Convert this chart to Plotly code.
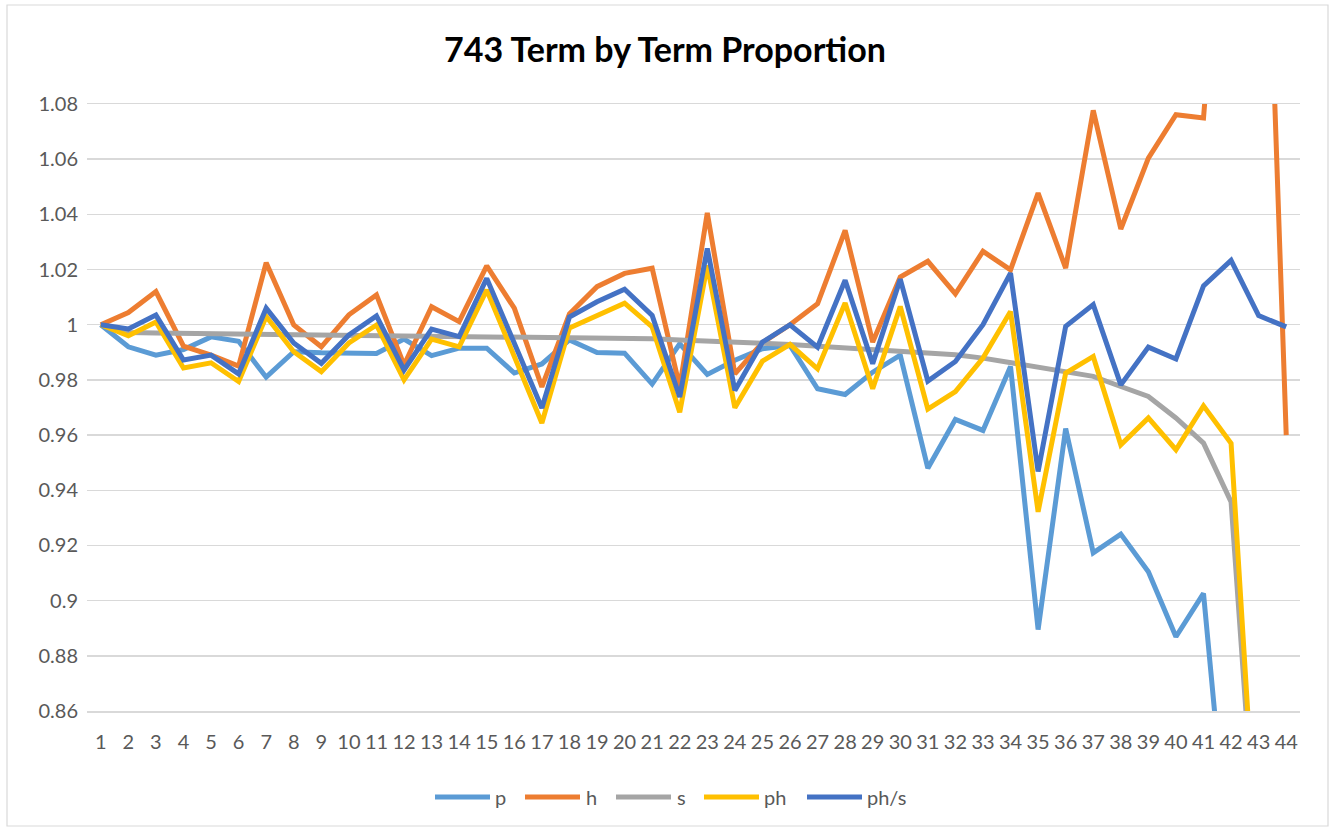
import plotly.graph_objects as go

terms = list(range(1, 45))

p = [1.0, 0.992, 0.989, 0.991, 0.9956, 0.994, 0.981, 0.9902, 0.9898, 0.9897,
     0.9896, 0.9948, 0.9888, 0.9915, 0.9915, 0.9825, 0.9858, 0.9945, 0.9899, 0.9897,
     0.9785, 0.9931, 0.982, 0.9871, 0.9913, 0.9925, 0.9768, 0.9747, 0.9828, 0.989,
     0.948, 0.9657, 0.9617, 0.9849, 0.8895, 0.9624, 0.9173, 0.9241, 0.9105, 0.8869,
     0.9026, 0.796, 0.64, None]

h = [1.0, 1.0044, 1.012, 0.9922, 0.989, 0.985, 1.0225, 0.9999, 0.992, 1.0036,
     1.0108, 0.9854, 1.0065, 1.0011, 1.0213, 1.006, 0.9775, 1.0039, 1.0138, 1.0186,
     1.0205, 0.9774, 1.0405, 0.9822, 0.9935, 1.0, 1.0076, 1.0342, 0.9937, 1.0173,
     1.023, 1.0112, 1.0266, 1.0199, 1.0477, 1.0205, 1.0777, 1.0347, 1.0604, 1.0761,
     1.0749, 1.202, 1.25, 0.96]

s = [1.0, 0.9972, 0.997, 0.9969, 0.9968, 0.9967, 0.9966, 0.9965, 0.9964, 0.9963,
     0.9962, 0.9961, 0.996, 0.9959, 0.9958, 0.9956, 0.9955, 0.9953, 0.9952, 0.995,
     0.9949, 0.9945, 0.9942, 0.9938, 0.9933, 0.9928, 0.9922, 0.9916, 0.991, 0.9903,
     0.9897, 0.9891, 0.9879, 0.9863, 0.9849, 0.9831, 0.9813, 0.9776, 0.974, 0.9662,
     0.9571, 0.9358, 0.795, None]

ph = [1.0, 0.996, 1.001, 0.9843, 0.9862, 0.9794, 1.003, 0.9902, 0.983, 0.9934,
      0.9999, 0.98, 0.9948, 0.992, 1.0126, 0.989, 0.9644, 0.9988, 1.0035, 1.0078,
      0.9992, 0.9683, 1.0215, 0.9699, 0.9868, 0.9929, 0.984, 1.0079, 0.9768, 1.0066,
      0.9694, 0.9758, 0.9879, 1.0048, 0.9322, 0.9825, 0.9885, 0.9565, 0.9662, 0.9547,
      0.9706, 0.957, 0.796, None]

ph_s = [1.0, 0.9985, 1.0035, 0.9872, 0.989, 0.9822, 1.006, 0.9934, 0.986, 0.9963,
        1.0032, 0.9836, 0.9984, 0.9957, 1.0168, 0.9932, 0.9698, 1.0028, 1.0083, 1.0129,
        1.0034, 0.9738, 1.0276, 0.9762, 0.9937, 1.0, 0.9919, 1.0161, 0.9859, 1.0165,
        0.9796, 0.9867, 1.0, 1.0187, 0.9468, 0.9994, 1.0073, 0.9782, 0.9919, 0.9876,
        1.0141, 1.0233, 1.0033, 0.9992]

y_ticks = [0.86, 0.88, 0.9, 0.92, 0.94, 0.96, 0.98, 1.0, 1.02, 1.04, 1.06, 1.08]
y_tick_text = ["0.86", "0.88", "0.9", "0.92", "0.94", "0.96", "0.98", "1",
               "1.02", "1.04", "1.06", "1.08"]

series_names = ["p", "h", "s", "ph", "ph/s"]
series_values = [p, h, s, ph, ph_s]
series_colors = ["#5B9BD5", "#ED7D31", "#A5A5A5", "#FFC000", "#4472C4"]

FONT = "Lato, Calibri, 'Noto Sans', sans-serif"
LINE_W = 5

W, H = 1330, 830
ml, mr, mt, mb = 87, 30, 104, 119
pw, phh = W - ml - mr, H - mt - mb


def px(xp):
    return (xp - ml) / pw


def py(yp):
    return (H - mb - yp) / phh


fig = go.Figure()
for name, vals, col in zip(series_names, series_values, series_colors):
    fig.add_trace(go.Scatter(
        x=terms, y=vals, name=name, mode="lines",
        line=dict(color=col, width=LINE_W),
        connectgaps=False, showlegend=False, hoverinfo="skip",
    ))

fig.update_layout(
    width=W, height=H,
    margin=dict(l=ml, r=mr, t=mt, b=mb),
    paper_bgcolor="white", plot_bgcolor="white",
    font=dict(family=FONT, color="#595959", size=20),
    title=dict(text="<b>743 Term by Term Proportion</b>", x=0.5, xanchor="center",
               y=1 - 50 / H, yanchor="middle",
               font=dict(family=FONT, size=34, color="#000000")),
    xaxis=dict(range=[0.5, 44.5], tickmode="array", tickvals=terms,
               ticktext=[str(t) for t in terms], showgrid=False,
               showline=True, linecolor="#D9D9D9", linewidth=1.5, mirror=True,
               zeroline=False, ticks="", ticklabelstandoff=12,
               tickfont=dict(size=20, color="#595959")),
    yaxis=dict(range=[0.86, 1.08], tickmode="array", tickvals=y_ticks,
               ticktext=y_tick_text, showgrid=True, gridcolor="#D9D9D9",
               gridwidth=1.5, zeroline=False, showline=False, ticks="",
               ticklabelstandoff=8, tickfont=dict(size=20, color="#595959")),
    showlegend=False,
    hovermode=False,
)

# chart border
fig.add_shape(type="rect", xref="paper", yref="paper",
              x0=px(7), x1=px(1328), y0=py(826), y1=py(5),
              line=dict(color="#D9D9D9", width=1.2), layer="below")

# legend (drawn manually to match the reference layout)
legend_line_x = [435, 525, 616, 704, 807]
legend_text_x = [493, 584, 675, 762, 865]
legend_y = 797
for name, col, lx, tx in zip(series_names, series_colors, legend_line_x, legend_text_x):
    fig.add_shape(type="line", xref="paper", yref="paper",
                  x0=px(lx), x1=px(lx + 55), y0=py(legend_y), y1=py(legend_y),
                  line=dict(color=col, width=LINE_W))
    fig.add_annotation(xref="paper", yref="paper", x=px(tx), y=py(legend_y),
                       text=name, showarrow=False, xanchor="left", yanchor="middle",
                       font=dict(family=FONT, size=20, color="#595959"))

fig.write_html("out.html", config={"displayModeBar": False, "staticPlot": True},
               post_script="document.body.style.margin='0';document.body.style.overflow='hidden';")
